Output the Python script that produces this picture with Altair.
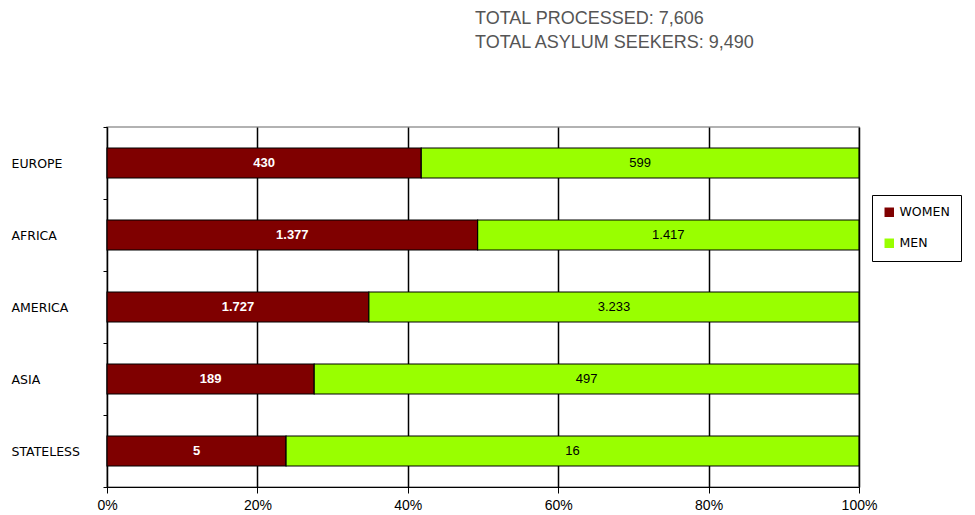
import altair as alt
import pandas as pd

regions = ["EUROPE", "AFRICA", "AMERICA", "ASIA", "STATELESS"]
women = [430, 1377, 1727, 189, 5]
men = [599, 1417, 3233, 497, 16]
groups = ["WOMEN", "MEN"]
colors = ["#7F0000", "#99FF00"]
title_lines = ["TOTAL PROCESSED: 7,606", "TOTAL ASYLUM SEEKERS: 9,490"]

rows = []
for r, w, m in zip(regions, women, men):
    rows.append({"region": r, "group": "WOMEN", "order": 0, "value": w})
    rows.append({"region": r, "group": "MEN", "order": 1, "value": m})
df = pd.DataFrame(rows)

base = alt.Chart(df).transform_stack(
    stack="value", as_=["x0", "x1"], groupby=["region"],
    offset="normalize", sort=[alt.SortField("order", "ascending")]
).transform_calculate(
    mid="(datum.x0 + datum.x1) / 2",
    label="replace(format(datum.value, ','), ',', '.')"
)

yenc = alt.Y("region:N", sort=regions,
             scale=alt.Scale(paddingInner=0, paddingOuter=0),
             axis=alt.Axis(title=None, tickBand="extent", tickSize=4, tickColor="black",
                           domainColor="black", labelAlign="left", labelPadding=92,
                           labelFont="DejaVu Sans", labelFontSize=12.5, labelColor="black",
                           grid=False))

bars = base.mark_bar(size=30, stroke="black", strokeWidth=1.2).encode(
    x=alt.X("x0:Q", scale=alt.Scale(domain=[0, 1]),
            axis=alt.Axis(title=None, format="%", values=[0, 0.2, 0.4, 0.6, 0.8, 1.0],
                          grid=True, gridColor="black", gridWidth=1.5, gridOpacity=1,
                          tickColor="black", tickSize=6, domainColor="black",
                          labelFont="Liberation Sans", labelFontSize=14, labelColor="black",
                          labelPadding=5, labelFlush=False)),
    x2="x1:Q",
    y=yenc,
    color=alt.Color("group:N", sort=groups,
                    scale=alt.Scale(domain=groups, range=colors),
                    legend=alt.Legend(title=None, orient="none", legendX=765, legendY=68,
                                      strokeColor="black", padding=11, symbolType="square",
                                      symbolSize=90, symbolStrokeWidth=0, rowPadding=18,
                                      labelFont="DejaVu Sans", labelFontSize=12.5,
                                      labelColor="black", fillColor="white")),
)

text_w = base.transform_filter("datum.group == 'WOMEN'").mark_text(
    color="white", fontWeight="bold", font="Liberation Sans", fontSize=13
).encode(x="mid:Q", y=alt.Y("region:N", sort=regions), text="label:N")

text_m = base.transform_filter("datum.group == 'MEN'").mark_text(
    color="black", font="Liberation Sans", fontSize=13
).encode(x="mid:Q", y=alt.Y("region:N", sort=regions), text="label:N")

chart = alt.layer(bars, text_w, text_m).properties(
    width=752, height=360,
    autosize="none",
    padding={"left": 107, "top": 127, "right": 116, "bottom": 28},
    title=alt.TitleParams(text=title_lines, anchor="start", dx=464, offset=69,
                          font="Liberation Sans", fontSize=18, fontWeight="normal",
                          color="#555555", lineHeight=24),
).configure_view(stroke="#999999", strokeWidth=1.5)

chart.save("out.html", embed_options={"renderer": "svg", "actions": False})
